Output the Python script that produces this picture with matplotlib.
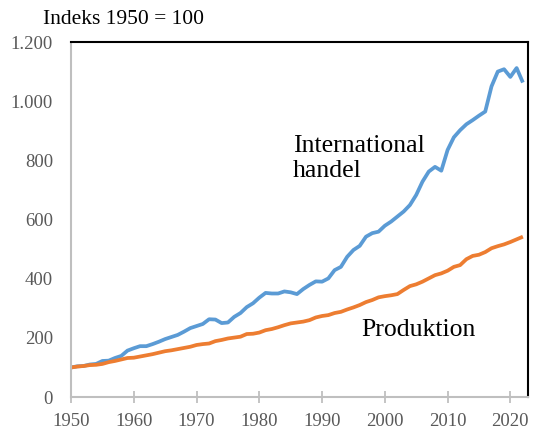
import numpy as np
import matplotlib.pyplot as plt
from matplotlib.ticker import FuncFormatter

years = np.arange(1950, 2023)

handel = [100, 104, 105, 110, 112, 122, 123, 132, 139, 157,
          165, 172, 172, 179, 187, 196, 203, 210, 221, 233,
          240, 247, 263, 262, 250, 252, 271, 284, 304, 317,
          336, 352, 350, 350, 357, 354, 348, 365, 379, 391,
          390, 401, 429, 440, 474, 497, 511, 542, 554, 559,
          579, 593, 610, 627, 649, 683, 728, 762, 778, 765,
          835, 878, 902, 922, 936, 951, 965, 1050, 1100, 1108,
          1082, 1112, 1063]

produktion = [100, 103, 105, 108, 109, 112, 118, 122, 127, 132,
              133, 137, 141, 145, 150, 155, 158, 162, 166, 170,
              176, 179, 181, 189, 193, 198, 201, 204, 213, 214,
              218, 226, 230, 236, 243, 249, 252, 255, 260, 269,
              274, 277, 284, 288, 296, 303, 311, 321, 328, 337,
              341, 344, 348, 362, 375, 381, 390, 401, 412, 418,
              427, 440, 446, 466, 477, 481, 490, 503, 510, 516,
              524, 533, 542]

x_ticks = [1950, 1960, 1970, 1980, 1990, 2000, 2010, 2020]
y_ticks = [0, 200, 400, 600, 800, 1000, 1200]

plt.rcParams['font.family'] = ['Liberation Serif', 'DejaVu Serif']

fig = plt.figure(figsize=(5.36, 4.33), dpi=100)
ax = fig.add_axes([0.1325, 0.083, 0.853, 0.82])

ax.plot(years, handel, color='#5B9BD5', lw=2.7, solid_capstyle='butt')
ax.plot(years, produktion, color='#ED7D31', lw=2.7, solid_capstyle='butt')

ax.set_xlim(1950, 2022.85)
ax.set_ylim(0, 1200)
ax.set_xticks(x_ticks)
ax.set_yticks(y_ticks)
ax.yaxis.set_major_formatter(FuncFormatter(lambda v, p: f'{int(v):,}'.replace(',', '.')))

ax.tick_params(axis='x', direction='inout', length=9, width=1.3, color='#BFBFBF',
               labelsize=13.5, labelcolor='#595959', pad=7)
ax.tick_params(axis='y', length=0, labelsize=13.5, labelcolor='#595959', pad=13)

for s in ['left', 'bottom']:
    ax.spines[s].set_color('#BFBFBF')
    ax.spines[s].set_linewidth(1.5)
for s in ['top', 'right']:
    ax.spines[s].set_color('black')
    ax.spines[s].set_linewidth(1.5)

ax.text(1985.4, 885, 'International\nhandel', fontsize=18.5, va='top', ha='left',
        linespacing=1.15)
ax.text(1996.3, 228, 'Produktion', fontsize=18.5, va='center', ha='left')

fig.text(43 / 536, 1 - 20 / 433, 'Indeks 1950 = 100', fontsize=15.5, va='center', ha='left')

fig.savefig('out.png', dpi=100)
